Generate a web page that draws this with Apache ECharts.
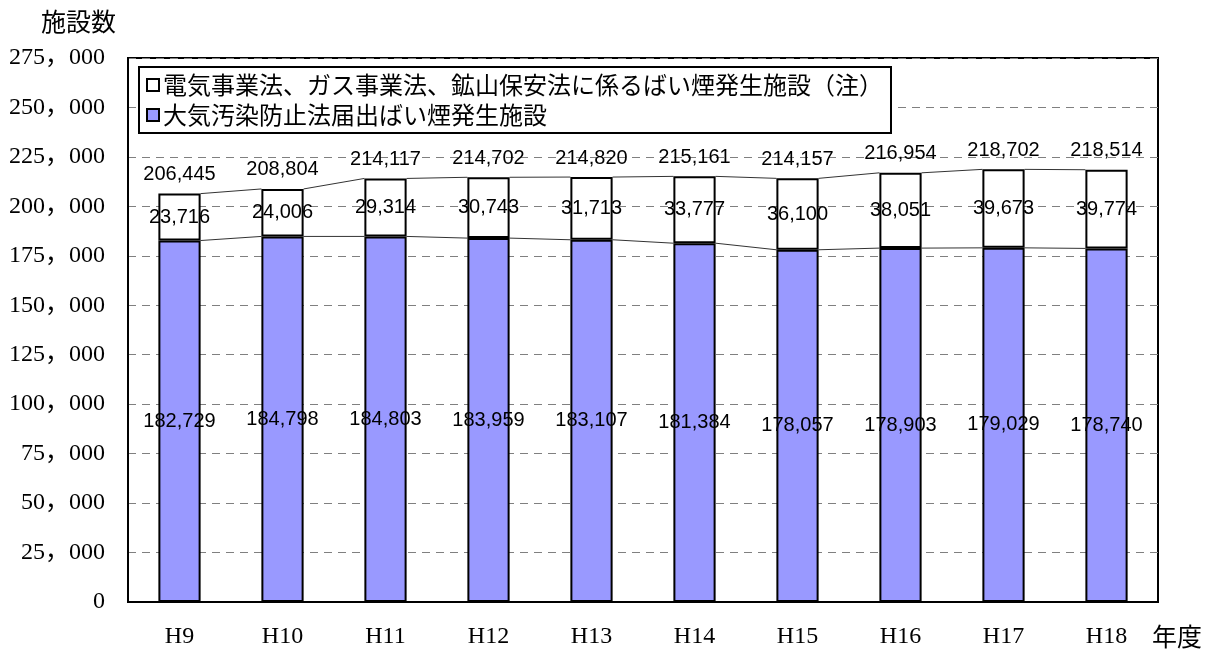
<!DOCTYPE html>
<html>
<head>
<meta charset="utf-8">
<script src="https://cdn.jsdelivr.net/npm/echarts@6/dist/echarts.min.js"></script>
<style>
html,body{margin:0;padding:0;background:#fff;}
#main{width:1214px;height:657px;}
</style>
</head>
<body>
<div id="main"></div>
<script>
const categories = ['H9','H10','H11','H12','H13','H14','H15','H16','H17','H18'];
const taikiValues = [182729,184798,184803,183959,183107,181384,178057,178903,179029,178740];
const denkiValues = [23716,24006,29314,30743,31713,33777,36100,38051,39673,39774];
const totalValues = [206445,208804,214117,214702,214820,215161,214157,216954,218702,218514];
const yTicks = {min: 0, max: 275000, interval: 25000};
const nameTaiki = '大気汚染防止法届出ばい煙発生施設';
const nameDenki = '電気事業法、ガス事業法、鉱山保安法に係るばい煙発生施設（注）';

const BAR_FRAC = 0.41;
const fmt = v => v.toLocaleString('en-US');
const serif = '"Liberation Serif", "DejaVu Serif", "Noto Sans CJK JP", serif';
const sans = '"Liberation Sans", "Noto Sans CJK JP", sans-serif';
const cjk = '"Noto Sans CJK JP", sans-serif';

const connectorData = [];
for (let i = 0; i < categories.length - 1; i++) {
  connectorData.push([i, taikiValues[i], taikiValues[i+1], totalValues[i], totalValues[i+1]]);
}

const chart = echarts.init(document.getElementById('main'), null, {renderer: 'canvas'});
chart.setOption({
  animation: false,
  backgroundColor: '#fff',
  title: {
    text: '施設数', left: 36, top: 4,
    textStyle: {fontFamily: cjk, fontSize: 25, fontWeight: 'normal', color: '#000'}
  },
  graphic: [{
    type: 'text', left: 1152, top: 624,
    style: {text: '年度', font: '25px ' + cjk, fill: '#000'}
  }],
  legend: {
    data: [nameDenki, nameTaiki],
    orient: 'vertical',
    left: 139, top: 67,
    padding: [6, 8, 6, 7],
    itemGap: 6,
    itemWidth: 12, itemHeight: 12,
    backgroundColor: '#fff',
    borderColor: '#000', borderWidth: 2,
    textStyle: {fontFamily: cjk, fontSize: 24, color: '#000', padding: [0,0,0,-1]},
    icon: 'rect'
  },
  grid: {
    left: 128, right: 56, top: 58, bottom: 55,
    show: true, borderColor: '#000', borderWidth: 2, backgroundColor: 'transparent'
  },
  xAxis: {
    type: 'category',
    data: categories,
    axisLine: {lineStyle: {color: '#000', width: 2}},
    axisTick: {inside: true, length: 7, lineStyle: {color: '#555', width: 1.5}},
    axisLabel: {fontFamily: serif, fontSize: 24, color: '#000', margin: 23}
  },
  yAxis: {
    type: 'value',
    min: yTicks.min, max: yTicks.max, interval: yTicks.interval,
    axisLine: {show: true, lineStyle: {color: '#000', width: 2}},
    axisTick: {show: false},
    axisLabel: {
      fontFamily: serif, fontSize: 24, color: '#000', margin: 23,
      formatter: v => v === 0 ? '0' : fmt(v).replace(',', '，')
    },
    splitLine: {lineStyle: {color: '#808080', type: [8, 6], width: 1}}
  },
  series: [
    {
      name: nameTaiki, type: 'bar', stack: 'total',
      data: taikiValues, barWidth: (BAR_FRAC * 100) + '%',
      itemStyle: {color: '#9999FF', borderColor: '#000', borderWidth: 2},
      label: {show: true, position: 'inside', formatter: p => fmt(p.value),
        fontFamily: sans, fontSize: 20, color: '#000'}
    },
    {
      name: nameDenki, type: 'bar', stack: 'total',
      data: denkiValues, barWidth: (BAR_FRAC * 100) + '%',
      itemStyle: {color: '#FFFFFF', borderColor: '#000', borderWidth: 2},
      label: {show: true, position: 'inside', formatter: p => fmt(p.value),
        fontFamily: sans, fontSize: 20, color: '#000'}
    },
    {
      name: '合計', type: 'scatter', data: totalValues, symbolSize: 0,
      itemStyle: {opacity: 1, color: '#000'},
      label: {show: true, position: 'top', distance: 9, formatter: p => fmt(p.value),
        fontFamily: sans, fontSize: 20, color: '#000', opacity: 1},
      z: 5
    },
    {
      name: 'connectors', type: 'custom', data: connectorData, z: 1,
      renderItem: function (params, api) {
        const i = api.value(0);
        const half = api.size([1, 0])[0] * BAR_FRAC / 2;
        const a1 = api.coord([i, api.value(1)]);
        const a2 = api.coord([i + 1, api.value(2)]);
        const b1 = api.coord([i, api.value(3)]);
        const b2 = api.coord([i + 1, api.value(4)]);
        const style = {stroke: '#333', lineWidth: 1};
        return {
          type: 'group',
          children: [
            {type: 'line', shape: {x1: a1[0] + half, y1: a1[1], x2: a2[0] - half, y2: a2[1]}, style: style},
            {type: 'line', shape: {x1: b1[0] + half, y1: b1[1], x2: b2[0] - half, y2: b2[1]}, style: style}
          ]
        };
      }
    }
  ]
});
</script>
</body>
</html>
